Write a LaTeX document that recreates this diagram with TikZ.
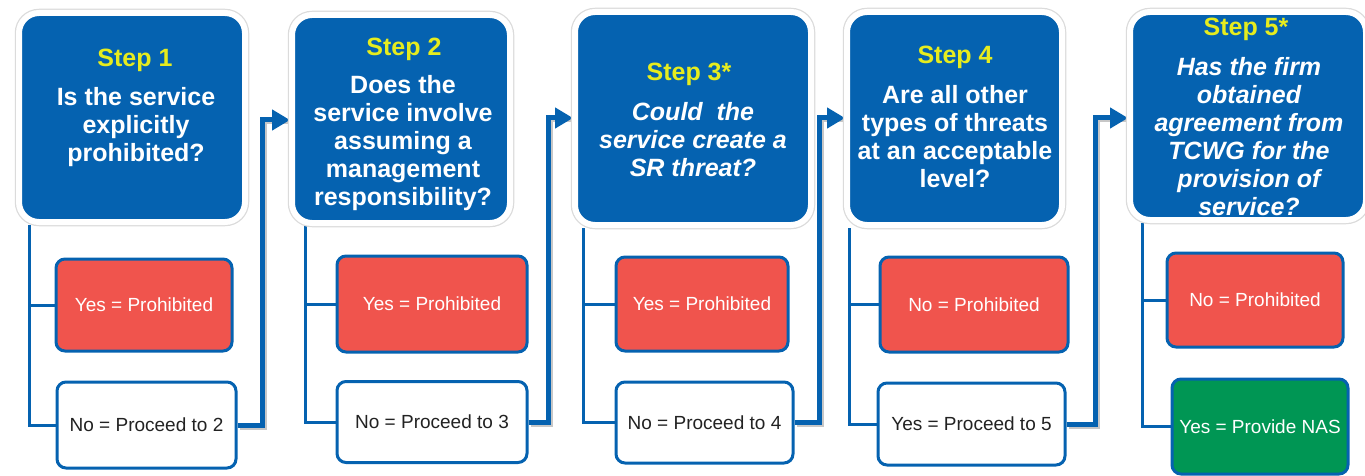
\documentclass[tikz,border=0pt]{standalone}
\usepackage{fontspec}
\setmainfont{Liberation Sans}
\usetikzlibrary{arrows.meta,shadows}

\definecolor{stepblue}{HTML}{0562B0}
\definecolor{stepyellow}{HTML}{E6EC1E}
\definecolor{nored}{HTML}{F0544D}
\definecolor{nasgreen}{HTML}{009654}
\definecolor{darktext}{HTML}{222222}

\pgfdeclarelayer{back}
\pgfsetlayers{back,main}

\tikzset{
  question/.style={draw=white, line width=6pt, fill=stepblue, rounded corners=20pt,
    inner sep=0pt,
    drop shadow={shadow xshift=2pt, shadow yshift=-3.5pt, opacity=0.25},
    preaction={draw=black!14, line width=8.5pt}},
  steptitle/.style={text=stepyellow, anchor=base, font=\fontsize{25}{28}\selectfont\bfseries},
  qtext/.style={text=white, align=center, font=\fontsize{25}{28}\selectfont\bfseries},
  outcome/.style={draw=stepblue, line width=3pt, rounded corners=9pt, inner sep=0pt,
    font=\fontsize{19}{22}\selectfont},
  prohibited/.style={outcome, fill=nored, text=white},
  proceed/.style={outcome, fill=white, text=darktext},
  provide/.style={outcome, fill=nasgreen, text=white},
  branch/.style={draw=stepblue, line width=3pt},
  link/.style={draw=stepblue, line width=5pt, line join=miter,
    -{Triangle[length=18pt,width=20pt]}, shorten >=-1pt},
  linkshadow/.style={draw=black!22, line width=5pt, line join=miter},
}

\begin{document}
\begin{tikzpicture}[x=1pt,y=-1pt]
\useasboundingbox (0,0) rectangle (1365,476);

% question boxes
\node[question, minimum width=226pt, minimum height=209pt] (b1) at (132,117.5) {};
\node[question, minimum width=218pt, minimum height=208pt] (b2) at (401,119) {};
\node[question, minimum width=236pt, minimum height=213pt] (b3) at (693,118.5) {};
\node[question, minimum width=215pt, minimum height=213pt] (b4) at (954.5,118.5) {};
\node[question, minimum width=236pt, minimum height=208pt] (b5) at (1248,116) {};

% step titles
\node[steptitle] (s1) at (135,67) {Step 1};
\node[steptitle] (s2) at (404,56) {Step 2};
\node[steptitle] (s3) at (689,81) {Step 3*};
\node[steptitle] (s4) at (955,64) {Step 4};
\node[steptitle] (s5) at (1246,36) {Step 5*};

% questions
\node[qtext] (q1) at (136,127) {Is the service\\explicitly\\prohibited?};
\node[qtext] (q2) at (403,143) {Does the\\service involve\\assuming a\\management\\responsibility?};
\node[qtext] (q3) at (693,139.5) {\itshape Could\ \ the\\\itshape service create a\\\itshape SR threat?};
\node[qtext] (q4) at (955,136.5) {Are all other\\types of threats\\at an acceptable\\level?};
\node[qtext] (q5) at (1249,137) {\itshape Has the firm\\\itshape obtained\\\itshape agreement from\\\itshape TCWG for the\\\itshape provision of\\\itshape service?};

% outcomes
\node[prohibited, minimum width=176pt, minimum height=92pt] (r1) at (144,305) {Yes = Prohibited};
\node[proceed, minimum width=179pt, minimum height=86pt] (w1) at (146.5,425) {No = Proceed to 2};
\node[prohibited, minimum width=190pt, minimum height=96pt] (r2) at (432,304) {Yes = Prohibited};
\node[proceed, minimum width=190pt, minimum height=81pt] (w2) at (432,422) {No = Proceed to 3};
\node[prohibited, minimum width=172pt, minimum height=94pt] (r3) at (702,304) {Yes = Prohibited};
\node[proceed, minimum width=177pt, minimum height=81pt] (w3) at (704.5,422.5) {No = Proceed to 4};
\node[prohibited, minimum width=188pt, minimum height=95pt] (r4) at (974,304.5) {No = Prohibited};
\node[proceed, minimum width=187pt, minimum height=82pt] (w4) at (971.5,424) {Yes = Proceed to 5};
\node[prohibited, minimum width=176pt, minimum height=94pt] (r5) at (1255,300) {No = Prohibited};
\node[provide, minimum width=176pt, minimum height=95pt] (g5) at (1260,426.5) {Yes = Provide NAS};

% turning points of the links between steps
\coordinate (c1) at (262,120);
\coordinate (c2) at (548,118);
\coordinate (c3) at (819,118);
\coordinate (c4) at (1095,118);

\begin{pgfonlayer}{back}
  % branches from each question to its outcomes
  \draw[branch] ([xshift=13pt]b1.south west) |- (r1.west);
  \draw[branch] ([xshift=13pt]b1.south west) |- (w1.west);
  \draw[branch] ([xshift=16pt]b2.south west) |- (r2.west);
  \draw[branch] ([xshift=16pt]b2.south west) |- (w2.west);
  \draw[branch] ([xshift=11pt]b3.south west) |- (r3.west);
  \draw[branch] ([xshift=11pt]b3.south west) |- (w3.west);
  \draw[branch] ([xshift=5pt]b4.south west) |- (r4.west);
  \draw[branch] ([xshift=5pt]b4.south west) |- (w4.west);
  \draw[branch] ([xshift=15pt]b5.south west) |- (r5.west);
  \draw[branch] ([xshift=15pt]b5.south west) |- (g5.west);

  % soft shadows under the links
  \begin{scope}[transform canvas={shift={(2pt,-2pt)}}]
    \draw[linkshadow] (w1.east) -| (c1) -- (c1 -| b2.west);
    \draw[linkshadow] (w2.east) -| (c2) -- (c2 -| b3.west);
    \draw[linkshadow] (w3.east) -| (c3) -- (c3 -| b4.west);
    \draw[linkshadow] (w4.east) -| (c4) -- (c4 -| b5.west);
  \end{scope}

  % links from each "proceed" outcome to the next step
  \draw[link] (w1.east) -| (c1) -- (c1 -| b2.west);
  \draw[link] (w2.east) -| (c2) -- (c2 -| b3.west);
  \draw[link] (w3.east) -| (c3) -- (c3 -| b4.west);
  \draw[link] (w4.east) -| (c4) -- (c4 -| b5.west);
\end{pgfonlayer}
\end{tikzpicture}
\end{document}
